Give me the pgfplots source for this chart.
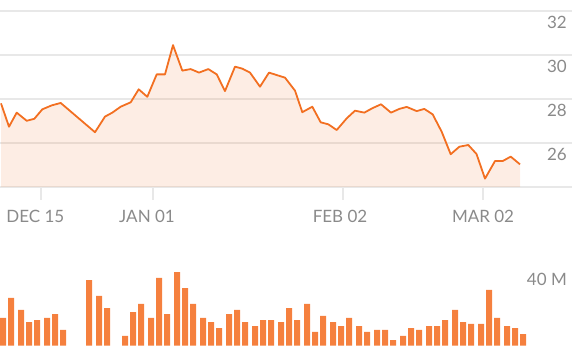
\documentclass[border=0pt]{standalone}
\usepackage{pgfplots}
\pgfplotsset{compat=1.18}
\usepackage{pgfplotstable}
\usepackage{fontspec}
\setmainfont{Lato}
\definecolor{lc}{HTML}{F26F21}
\definecolor{bc}{HTML}{F5803E}
\definecolor{gridc}{HTML}{E8E8E8}
\definecolor{txt}{HTML}{8A8A8A}

\pgfplotstableread{
x y
1 27.80
9 26.74
16.7 27.38
26.7 27.01
34.3 27.10
42.3 27.53
51.7 27.71
60.7 27.82
95 26.49
105 27.20
112.3 27.38
120.7 27.65
130.7 27.85
138.7 28.44
147.3 28.10
156.7 29.12
165 29.12
173 30.45
182.3 29.29
190.7 29.36
199 29.20
208.3 29.36
216.7 29.12
225 28.36
235 29.47
242.3 29.38
250 29.20
260 28.56
269 29.20
277.3 29.08
285 28.97
295 28.38
302.3 27.40
312.3 27.65
320.7 26.94
328.3 26.85
336.7 26.59
346.7 27.12
355 27.47
364.3 27.38
372.3 27.58
381 27.76
391 27.38
399.3 27.55
406.7 27.64
416.7 27.45
424.3 27.55
432.7 27.30
441.7 26.51
450.7 25.49
459.3 25.83
468.3 25.91
476.5 25.50
485 24.38
495 25.18
502.7 25.18
510.7 25.38
520 25.03
}\price

\pgfplotstableread{
x v
3 14.3
11 24.6
21 18.4
29 12.2
37 13.2
47 14.3
55 16.3
63 8.1
89 33.8
99 25.6
107 19.4
125 5.0
133 17.3
141 21.5
151 14.3
159 34.9
167 16.3
177 37.9
185 29.7
193 21.5
203 14.3
211 12.2
219 9.1
229 16.3
237 18.4
245 12.2
255 10.1
263 13.2
271 13.2
281 12.2
289 19.4
297 13.2
307 21.5
315 7.1
323 15.3
333 12.2
341 10.1
349 14.3
359 10.1
367 7.1
377 8.1
385 8.1
393 2.9
403 5.0
411 9.1
419 8.1
429 10.1
437 10.1
445 13.2
455 18.4
463 12.2
471 11.2
481 11.2
489 28.7
497 14.3
507 10.1
515 9.1
523 6.0
}\volume

\begin{document}
\begin{tikzpicture}
\useasboundingbox (0,0) rectangle (572bp,356bp);
\begin{axis}[
  at={(0,169bp)}, anchor=south west,
  scale only axis, width=572bp, height=176bp,
  xmin=0, xmax=572, ymin=24, ymax=32,
  axis line style={draw=none},
  ytick={24,26,28,30,32}, yticklabels={,26,28,30,32},
  yticklabel pos=right,
  ymajorgrids, grid style={draw=gridc, line width=1.6bp},
  ytick style={draw=none},
  tick align=outside, major tick length=13bp,
  xtick={41,153,343,483}, xticklabels={,,,},
  xtick pos=bottom,
  xtick style={draw=gridc, line width=1.6bp},
  yticklabel style={anchor=east, inner sep=0pt, xshift=-18bp, yshift=-11bp, font=\fontsize{17bp}{19bp}\selectfont, text=txt},
  extra x ticks={35.3,147,340,483},
  extra x tick labels={DEC 15,JAN 01,FEB 02,MAR 02},
  extra x tick style={major tick length=0pt, tick style={draw=none},
    xticklabel style={anchor=center, inner sep=0pt, yshift=-29.7bp, font=\fontsize{17bp}{19bp}\selectfont, text=txt}},
]
\addplot[fill=lc, fill opacity=0.12, draw=none] table[x=x,y=y] {\price} \closedcycle;
\addplot[draw=lc, line width=1.8bp, line join=round, mark=none] table[x=x,y=y] {\price};
\end{axis}
\begin{axis}[
  at={(0,10.3bp)}, anchor=south west,
  scale only axis, width=572bp, height=77.7bp,
  xmin=0, xmax=572, ymin=0, ymax=40,
  axis line style={draw=none},
  xtick=\empty,
  ytick={40}, yticklabels={40 M},
  yticklabel pos=right,
  ytick style={draw=none},
  yticklabel style={anchor=east, inner sep=0pt, xshift=-5bp, yshift=-11bp, font=\fontsize{17bp}{19bp}\selectfont, text=txt},
  clip=false,
]
\addplot[ybar, bar width=6, fill=bc, draw=none] table[x=x,y=v] {\volume};
\end{axis}
\end{tikzpicture}
\end{document}
